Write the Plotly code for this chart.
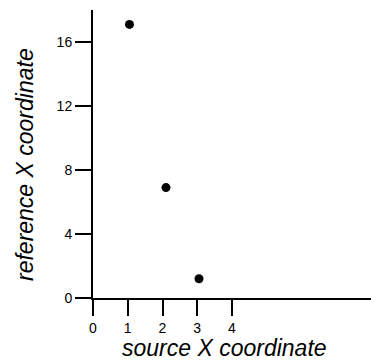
import plotly.graph_objects as go

source_x = [1.05, 2.1, 3.05]
reference_x = [17.1, 6.9, 1.2]
x_tick_vals = [0, 1, 2, 3, 4]
y_tick_vals = [0, 4, 8, 12, 16]

W, H = 371, 364
L, R, T, B = 93, 0, 10, 66

fig = go.Figure()
fig.add_trace(go.Scatter(
    x=source_x, y=reference_x, mode="markers",
    marker=dict(color="black", size=9),
    showlegend=False, cliponaxis=False,
))

font = "Liberation Sans, Arial, sans-serif"
fig.update_layout(
    width=W, height=H,
    margin=dict(l=L, r=R, t=T, b=B),
    paper_bgcolor="white", plot_bgcolor="white",
    font=dict(family=font, color="black", size=14),
)
fig.update_xaxes(
    range=[0, 8], tickvals=x_tick_vals, ticktext=[str(v) for v in x_tick_vals],
    showgrid=False, zeroline=False, showline=True, linecolor="black", linewidth=2,
    ticks="outside", ticklen=16, tickwidth=2, tickcolor="black",
    tickfont=dict(size=14), automargin=False,
)
fig.update_yaxes(
    range=[0, 18], tickvals=y_tick_vals, ticktext=[str(v) for v in y_tick_vals],
    showgrid=False, zeroline=False, showline=True, linecolor="black", linewidth=2,
    ticks="outside", ticklen=16, tickwidth=2, tickcolor="black",
    tickfont=dict(size=14), automargin=False,
)

pw = W - L - R
ph = H - T - B
fig.add_annotation(
    text="<i>source X coordinate</i>", showarrow=False,
    xref="paper", yref="paper",
    x=(224 - L) / pw, y=-(348 - (H - B)) / ph,
    xanchor="center", yanchor="middle",
    font=dict(size=23, family=font, color="black"),
)
fig.add_annotation(
    text="<i>reference X coordinate</i>", showarrow=False,
    xref="paper", yref="paper",
    x=-(L - 25) / pw, y=((H - B) - 165) / ph,
    xanchor="center", yanchor="middle", textangle=-90,
    font=dict(size=23, family=font, color="black"),
)
fig.write_html(
    "out.html",
    config={"displayModeBar": False},
    post_script="document.body.style.margin='0px';document.body.style.overflow='hidden';",
)
